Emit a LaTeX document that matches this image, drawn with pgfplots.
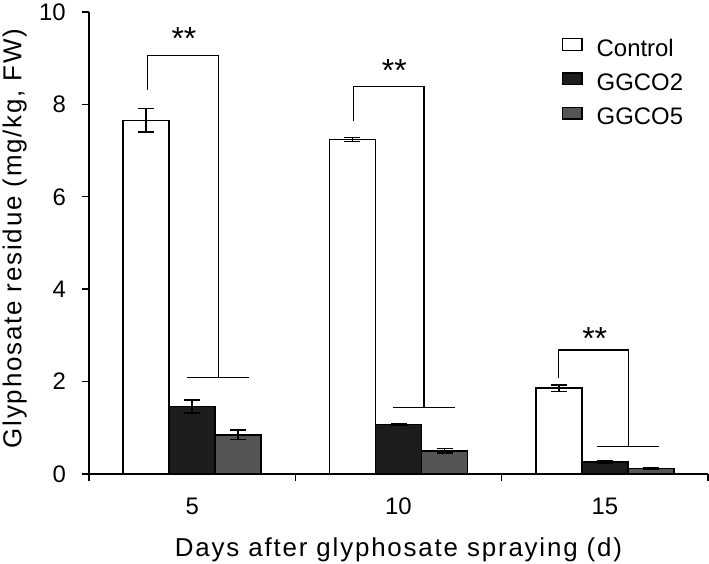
\documentclass[border=0pt]{standalone}
\usepackage{fontspec}
\setmainfont{Liberation Sans}
\usepackage{pgfplots}
\pgfplotsset{compat=1.18}
\definecolor{darkbar}{RGB}{28,28,28}
\definecolor{midbar}{RGB}{85,85,85}
\newcommand{\tickfont}{\fontsize{24}{28}\selectfont}
\newcommand{\labfont}{\fontsize{26}{30}\selectfont\addfontfeature{LetterSpace=7}}
\begin{document}
\begin{tikzpicture}
\useasboundingbox (-89bp,-90bp) rectangle (620bp,474bp);
\begin{axis}[
  at={(0,0)}, anchor=south west,
  scale only axis, width=619bp, height=462bp,
  xmin=0, xmax=3, ymin=0, ymax=10,
  axis x line*=bottom, axis y line*=left,
  axis line style={line width=1.6bp, black},
  xtick={0,1,2,3}, xticklabels={},
  extra x ticks={0.5,1.5,2.5}, extra x tick labels={5,10,15},
  extra x tick style={major tick length=0pt, tick label style={anchor=base, inner sep=0pt, yshift=-40bp}},
  ytick={0,2,4,6,8,10},
  yticklabel style={anchor=east, inner sep=0pt, xshift=-16bp},
  tick align=outside, major tick length=7bp,
  tick style={line width=1.4bp, black},
  ticklabel style={font=\tickfont},
  /pgf/number format/assume math mode=true,
  xlabel={Days after glyphosate spraying (d)},
  xlabel style={font=\labfont, at={([yshift=-82bp]axis description cs:0.5,0)}, anchor=base, inner sep=0pt},
  ylabel={Glyphosate residue (mg/kg, FW)},
  ylabel style={font=\labfont, at={([xshift=-67.5bp, yshift=4.5bp]axis description cs:0,0.5)}, anchor=base, inner sep=0pt},
  clip=false,
  legend cell align=left,
  legend style={at={(rel axis cs:0.7637,0.944)}, anchor=north west, draw=none, fill=none,
    inner sep=0pt, font=\tickfont, column sep=14bp, row sep=11.3bp,
    nodes={inner sep=0pt, text height=18bp, text depth=5bp}},
  legend image code/.code={\draw[#1, line width=1.3bp] (0bp,-0.6bp) rectangle (19.5bp,10.9bp);},
  every axis plot/.append style={ybar, bar width=0.223, bar shift=0pt, draw=black, line width=1.6bp,
    error bars/y dir=both, error bars/y explicit,
    error bars/error bar style={line width=1.6bp, black},
    error bars/error mark options={rotate=90, mark size=8bp, line width=1.6bp, black}},
]
\addplot[fill=white] coordinates {(0.277,7.655) +- (0,0.255) (1.277,7.24) +- (0,0.04) (2.277,1.86) +- (0,0.07)};
\addplot[fill=darkbar] coordinates {(0.5,1.46) +- (0,0.14) (1.5,1.07) +- (0,0.02) (2.5,0.26) +- (0,0.03)};
\addplot[fill=midbar] coordinates {(0.723,0.85) +- (0,0.10) (1.723,0.50) +- (0,0.05) (2.723,0.115) +- (0,0.02)};
\legend{Control, GGCO2, GGCO5}
% significance brackets
\draw[line width=1.3bp] (axis cs:0.285,8.32) -- (axis cs:0.285,9.06) -- (axis cs:0.627,9.06) -- (axis cs:0.627,2.09);
\draw[line width=1.3bp] (axis cs:0.4765,2.09) -- (axis cs:0.774,2.09);
\draw[line width=1.3bp] (axis cs:1.281,7.63) -- (axis cs:1.281,8.39) -- (axis cs:1.624,8.39) -- (axis cs:1.624,1.437);
\draw[line width=1.3bp] (axis cs:1.472,1.437) -- (axis cs:1.774,1.437);
\draw[line width=1.3bp] (axis cs:2.275,2.087) -- (axis cs:2.275,2.687) -- (axis cs:2.613,2.687) -- (axis cs:2.613,0.592);
\draw[line width=1.3bp] (axis cs:2.461,0.592) -- (axis cs:2.763,0.592);
\node[font=\fontsize{32}{36}\selectfont, yshift=-6.9bp] at (axis cs:0.460,9.58) {**};
\node[font=\fontsize{32}{36}\selectfont, yshift=-6.9bp] at (axis cs:1.480,8.889) {**};
\node[font=\fontsize{32}{36}\selectfont, yshift=-6.9bp] at (axis cs:2.451,3.083) {**};
\end{axis}
\end{tikzpicture}
\end{document}
